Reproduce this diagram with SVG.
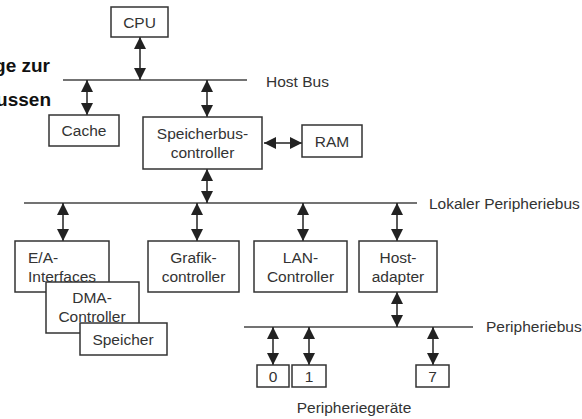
<svg xmlns="http://www.w3.org/2000/svg" width="582" height="419" viewBox="0 0 582 419">
<defs>
<marker id="ah" viewBox="0 0 12 12" refX="12" refY="6" markerWidth="12" markerHeight="12" markerUnits="userSpaceOnUse" orient="auto-start-reverse">
<path d="M0,0 L12,6 L0,12 z" fill="#222"/>
</marker>
<style>
.box{fill:#fff;stroke:#333;stroke-width:1.5}
.t{font-family:"Liberation Sans",Arial,sans-serif;font-size:15.5px;fill:#333}
.c{text-anchor:middle}
.bus{stroke:#444;stroke-width:1.5;fill:none}
.ar{stroke:#222;stroke-width:1.5;fill:none;marker-start:url(#ah);marker-end:url(#ah)}
.title{font-family:"Liberation Sans",Arial,sans-serif;font-size:19px;font-weight:bold;fill:#111;text-anchor:end}
</style>
</defs>
<rect width="582" height="419" fill="#fff"/>
<text class="title" x="50" y="72">ge zur</text>
<text class="title" x="51" y="106">ussen</text>
<g id="connectors">
<line class="bus" x1="63" y1="80" x2="247" y2="80"/>
<line class="bus" x1="24" y1="203" x2="417" y2="203"/>
<line class="bus" x1="244" y1="327" x2="473" y2="327"/>
<line class="ar" x1="140" y1="37" x2="140" y2="80"/>
<line class="ar" x1="87" y1="80" x2="87" y2="115"/>
<line class="ar" x1="207" y1="80" x2="207" y2="117"/>
<line class="ar" x1="264" y1="143" x2="302" y2="143"/>
<line class="ar" x1="207" y1="169" x2="207" y2="203"/>
<line class="ar" x1="63" y1="203" x2="63" y2="241"/>
<line class="ar" x1="197" y1="203" x2="197" y2="241"/>
<line class="ar" x1="303" y1="203" x2="303" y2="241"/>
<line class="ar" x1="397" y1="203" x2="397" y2="241"/>
<line class="ar" x1="397" y1="292" x2="397" y2="327"/>
<line class="ar" x1="273" y1="327" x2="273" y2="365"/>
<line class="ar" x1="309" y1="327" x2="309" y2="365"/>
<line class="ar" x1="433" y1="327" x2="433" y2="365"/>
</g>
<g id="labels">
<text class="t" x="266" y="87">Host Bus</text>
<text class="t" x="429" y="209">Lokaler Peripheriebus</text>
<text class="t" x="486" y="332">Peripheriebus</text>
<text class="t c" x="354" y="413">Peripheriegeräte</text>
</g>
<g id="cpu"><rect class="box" x="111" y="7" width="57" height="30"/><text class="t c" x="139.5" y="28">CPU</text></g>
<g id="cache"><rect class="box" x="49" y="115" width="70" height="31"/><text class="t c" x="84" y="136">Cache</text></g>
<g id="speicherbus"><rect class="box" x="143" y="117" width="119" height="52"/><text class="t c" x="202.5" y="139">Speicherbus-</text><text class="t c" x="202.5" y="158">controller</text></g>
<g id="ram"><rect class="box" x="302" y="125" width="60" height="32"/><text class="t c" x="332" y="147">RAM</text></g>
<g id="ea"><rect class="box" x="15" y="241" width="94" height="51"/><text class="t" x="28" y="263">E/A-</text><text class="t" x="28" y="282">Interfaces</text></g>
<g id="dma"><rect class="box" x="46" y="282" width="93" height="51"/><text class="t c" x="92" y="303">DMA-</text><text class="t c" x="92" y="322">Controller</text></g>
<g id="speicher"><rect class="box" x="80" y="323" width="87" height="32"/><text class="t c" x="123" y="345">Speicher</text></g>
<g id="grafik"><rect class="box" x="148" y="241" width="91" height="51"/><text class="t c" x="193.5" y="263">Grafik-</text><text class="t c" x="193.5" y="282">controller</text></g>
<g id="lan"><rect class="box" x="254" y="241" width="93" height="51"/><text class="t c" x="300.5" y="263">LAN-</text><text class="t c" x="300.5" y="282">Controller</text></g>
<g id="hostadapter"><rect class="box" x="359" y="241" width="78" height="51"/><text class="t c" x="398" y="263">Host-</text><text class="t c" x="398" y="282">adapter</text></g>
<g id="dev0"><rect class="box" x="257" y="365" width="32" height="22"/><text class="t c" x="273" y="382">0</text></g>
<g id="dev1"><rect class="box" x="292" y="365" width="34" height="22"/><text class="t c" x="309" y="382">1</text></g>
<g id="dev7"><rect class="box" x="416" y="365" width="33" height="22"/><text class="t c" x="432.5" y="382">7</text></g>
</svg>
